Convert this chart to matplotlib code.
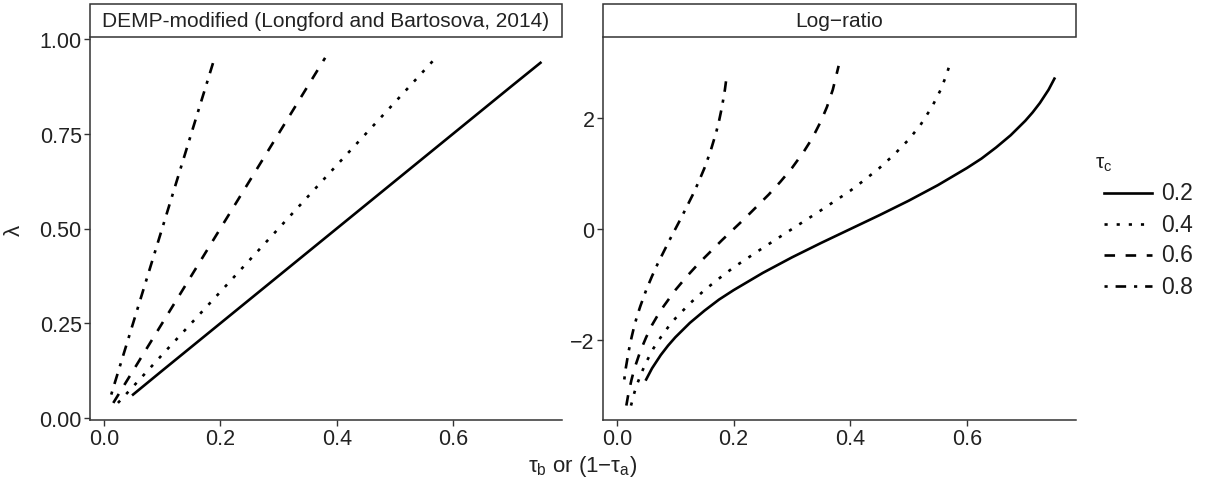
"""
Two-panel line chart: DEMP-modified lambda and its log-ratio against tau_b,
one line per tau_c. Saved as out.png (1219x485).
"""
import matplotlib
matplotlib.use("Agg")
import matplotlib.pyplot as plt
from matplotlib.lines import Line2D
from matplotlib.patches import Rectangle

plt.rcParams["font.family"] = ["Liberation Sans", "DejaVu Sans"]
plt.rcParams["mathtext.fontset"] = "custom"
plt.rcParams["mathtext.rm"] = "Liberation Sans"
plt.rcParams["mathtext.it"] = "Liberation Sans"

# values
TAU_C = ["0.2", "0.4", "0.6", "0.8"]

# left panel (lambda), nearly straight lines
X_02 = [0.05, 0.1, 0.2, 0.3, 0.4, 0.5, 0.6, 0.7, 0.75]
X_04 = [0.024, 0.05, 0.1, 0.2, 0.3, 0.4, 0.5, 0.573]
X_06 = [0.016, 0.04, 0.08, 0.16, 0.24, 0.32, 0.38]
X_08 = [0.0125, 0.02, 0.04, 0.08, 0.12, 0.16, 0.1875]

LAM_02 = [0.062, 0.125, 0.25, 0.375, 0.5, 0.625, 0.75, 0.875, 0.937]
LAM_04 = [0.04, 0.083, 0.167, 0.333, 0.5, 0.667, 0.833, 0.955]
LAM_06 = [0.04, 0.1, 0.2, 0.4, 0.6, 0.8, 0.95]
LAM_08 = [0.062, 0.1, 0.2, 0.4, 0.6, 0.8, 0.937]

# right panel (log-ratio)
XR_02 = [0.05, 0.06, 0.075, 0.0875, 0.1, 0.125, 0.15, 0.175, 0.2, 0.25, 0.3,
         0.35, 0.4, 0.45, 0.5, 0.55, 0.6, 0.625, 0.65, 0.675, 0.7, 0.7125,
         0.725, 0.74, 0.75]
XR_04 = [0.024, 0.03, 0.035, 0.042, 0.05, 0.0625, 0.075, 0.0875, 0.1, 0.125,
         0.15, 0.175, 0.2, 0.25, 0.3, 0.35, 0.4, 0.425, 0.45, 0.475, 0.5,
         0.52, 0.54, 0.555, 0.565, 0.573]
XR_06 = [0.016, 0.02, 0.025, 0.03, 0.04, 0.05, 0.06, 0.07, 0.08, 0.1, 0.12,
         0.14, 0.16, 0.18, 0.2, 0.22, 0.24, 0.26, 0.28, 0.3, 0.32, 0.335,
         0.35, 0.36, 0.37, 0.38]
XR_08 = [0.0125, 0.015, 0.02, 0.025, 0.03, 0.035, 0.04, 0.05, 0.06, 0.07,
         0.08, 0.09, 0.1, 0.11, 0.12, 0.13, 0.14, 0.15, 0.16, 0.17, 0.175,
         0.18, 0.185, 0.1875]

LR_02 = [-2.71, -2.51, -2.27, -2.10, -1.95, -1.69, -1.47, -1.27, -1.10, -0.79,
         -0.51, -0.25, 0.0, 0.25, 0.51, 0.79, 1.10, 1.27, 1.47, 1.69, 1.95,
         2.10, 2.27, 2.51, 2.71]
LR_04 = [-3.18, -2.94, -2.78, -2.59, -2.40, -2.15, -1.95, -1.77, -1.61, -1.34,
         -1.10, -0.89, -0.69, -0.34, 0.0, 0.34, 0.69, 0.89, 1.10, 1.34, 1.61,
         1.87, 2.20, 2.51, 2.78, 3.05]
LR_06 = [-3.18, -2.94, -2.71, -2.51, -2.20, -1.95, -1.73, -1.55, -1.39, -1.10,
         -0.85, -0.62, -0.41, -0.20, 0.0, 0.20, 0.41, 0.62, 0.85, 1.10, 1.39,
         1.64, 1.95, 2.20, 2.51, 2.94]
LR_08 = [-2.71, -2.51, -2.20, -1.95, -1.73, -1.55, -1.39, -1.10, -0.85, -0.62,
         -0.41, -0.20, 0.0, 0.20, 0.41, 0.62, 0.85, 1.10, 1.39, 1.74, 1.95,
         2.20, 2.51, 2.71]

XS = [X_02, X_04, X_06, X_08]
LAMS = [LAM_02, LAM_04, LAM_06, LAM_08]
XRS = [XR_02, XR_04, XR_06, XR_08]
LRS = [LR_02, LR_04, LR_06, LR_08]

STYLES = ["-", (0, (1.2, 3.4)), (0, (4, 4)), (0, (1.2, 3, 4, 3))]
LW = 1.9
INK = "#222222"
W, H = 1219, 485


def style_axes(ax, strip_label):
    for s in ("top", "right"):
        ax.spines[s].set_visible(False)
    for s in ("left", "bottom"):
        ax.spines[s].set_color("#333333")
        ax.spines[s].set_linewidth(1.1)
    ax.tick_params(length=4, width=1.0, color="#333333", labelsize=15.5,
                   labelcolor=INK, pad=2)
    ax.set_xlim(-0.024, 0.787)
    ax.set_xticks([0.0, 0.2, 0.4, 0.6])
    # facet strip
    sh = 33 / 383
    ax.add_patch(Rectangle((0, 1), 1, sh, transform=ax.transAxes,
                           facecolor="white", edgecolor="#333333",
                           linewidth=1.1, clip_on=False, zorder=3))
    ax.text(0.5, 1 + sh / 2, strip_label, transform=ax.transAxes,
            ha="center", va="center", fontsize=15, color=INK, zorder=4)


fig = plt.figure(figsize=(W / 100, H / 100), dpi=100)
ax1 = fig.add_axes([90 / W, 1 - 421 / H, 472 / W, 383 / H])
ax2 = fig.add_axes([603 / W, 1 - 421 / H, 473 / W, 383 / H])

for xs, lam, ls in zip(XS, LAMS, STYLES):
    ax1.plot(xs, lam, color="black", lw=LW, linestyle=ls)
for xs, lr, ls in zip(XRS, LRS, STYLES):
    ax2.plot(xs, lr, color="black", lw=LW, linestyle=ls)

style_axes(ax1, "DEMP-modified (Longford and Bartosova, 2014)")
style_axes(ax2, "Log\u2212ratio")

ax1.set_ylim(-0.005, 1.005)
ax1.set_yticks([0.0, 0.25, 0.5, 0.75, 1.0])
ax1.set_yticklabels(["0.00", "0.25", "0.50", "0.75", "1.00"])
ax2.set_ylim(-3.44, 3.46)
ax2.set_yticks([-2, 0, 2])
ax2.set_yticklabels(["\u22122", "0", "2"])

fig.text(14 / W, 1 - 230 / H, "\u03bb", rotation=90, ha="center",
         va="center", fontsize=16, color=INK)
fig.text(583 / W, 1 - 467 / H, r"$\tau_b$ or (1$-\tau_a$)", ha="center",
         va="center", fontsize=16, color=INK)

# legend
fig.text(1095 / W, 1 - 164 / H, r"$\tau_c$", ha="left", va="center",
         fontsize=15, color=INK)
for i, (lab, ls) in enumerate(zip(TAU_C, STYLES)):
    y = 1 - (194 + 31 * i) / H
    fig.add_artist(Line2D([1104 / W, 1152 / W], [y, y], color="black",
                          lw=LW, linestyle=ls, transform=fig.transFigure))
    fig.text(1161 / W, y, lab, ha="left", va="center", fontsize=16.5,
             color=INK)

fig.savefig("out.png", dpi=100)
